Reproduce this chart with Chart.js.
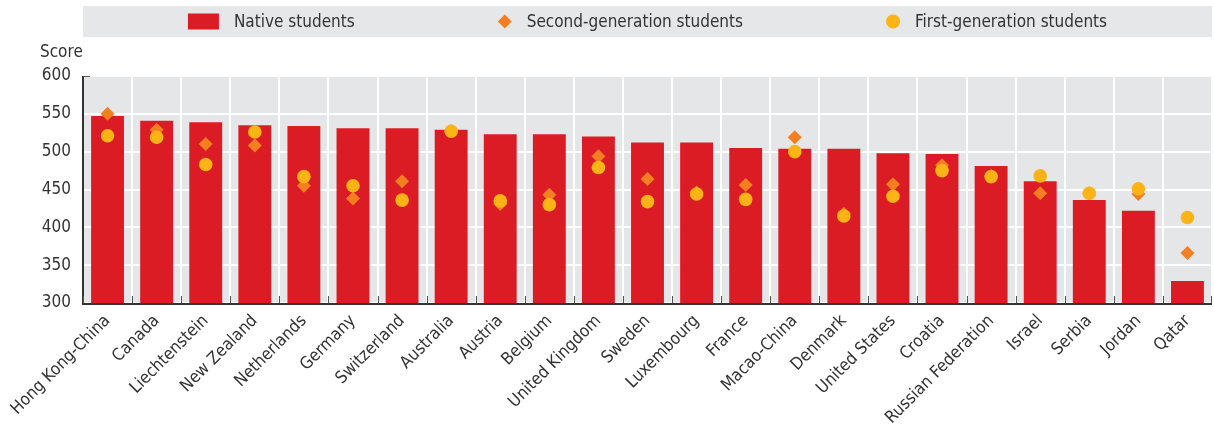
<!DOCTYPE html>
<html>
<head>
<meta charset="utf-8">
<script src="https://cdn.jsdelivr.net/npm/chart.js@4/dist/chart.umd.min.js"></script>
<style>
  html, body { margin: 0; padding: 0; background: #ffffff; }
  #wrap { position: relative; width: 1214px; height: 427px; }
</style>
</head>
<body>
<div id="wrap"><canvas id="c" width="1214" height="427"></canvas></div>
<script>
const FONT = '"Liberation Sans Narrow", "DejaVu Sans Condensed", "Roboto Condensed", "Arial Narrow", sans-serif';

const countries = [
  'Hong Kong-China', 'Canada', 'Liechtenstein', 'New Zealand', 'Netherlands',
  'Germany', 'Switzerland', 'Australia', 'Austria', 'Belgium', 'United Kingdom',
  'Sweden', 'Luxembourg', 'France', 'Macao-China', 'Denmark', 'United States',
  'Croatia', 'Russian Federation', 'Israel', 'Serbia', 'Jordan', 'Qatar'
];
const nativeScores = [547, 541, 539, 535, 534, 531, 531, 529, 523, 523, 520, 512, 512, 505, 504, 504, 498, 497, 481, 461, 436, 422, 329];
const secondGenScores = [550, 529, 510, 508, 455, 438, 461, 527, 431, 443, 494, 464, 446, 456, 519, 418, 457, 482, 468, 445, 445, 444, 366];
const firstGenScores = [521, 519, 483, 526, 467, 455, 436, 527, 435, 430, 479, 434, 444, 437, 500, 415, 441, 475, 467, 468, 445, 451, 413];
const yTicks = [300, 350, 400, 450, 500, 550, 600];
const axisTitle = 'Score';

const RED = '#dc1c24';
const ORANGE = '#f47f20';
const GOLD = '#fcb316';
const PLOT_BG = '#e5e6e8';
const TEXT = '#333333';

// Grey plot background, axis lines, inner ticks, "Score" label and a legend bar
const decor = {
  id: 'decor',
  beforeDraw(chart) {
    const { ctx, chartArea: a } = chart;
    ctx.save();
    ctx.fillStyle = PLOT_BG;
    ctx.fillRect(a.left, a.top, a.right - a.left, a.bottom - a.top);
    ctx.restore();
  },
  afterDatasetsDraw(chart) {
    const { ctx, chartArea: a, scales } = chart;
    const x = scales.x;
    ctx.save();
    ctx.strokeStyle = TEXT;
    ctx.lineWidth = 2;
    ctx.beginPath();
    ctx.moveTo(a.left, a.top);
    ctx.lineTo(a.left, a.bottom + 1);
    ctx.lineTo(a.right, a.bottom + 1);
    ctx.stroke();
    // short ticks pointing inward at category boundaries
    ctx.lineWidth = 1;
    ctx.strokeStyle = '#555555';
    ctx.beginPath();
    for (let i = 0; i <= countries.length; i++) {
      const px = Math.min(Math.round(x.getPixelForValue(i - 0.5)) + 0.5, a.right - 0.5);
      ctx.moveTo(px, a.bottom);
      ctx.lineTo(px, a.bottom - 7);
    }
    const yTop = Math.round(scales.y.getPixelForValue(600)) + 0.5;
    ctx.moveTo(a.left, yTop);
    ctx.lineTo(a.left + 7, yTop);
    ctx.stroke();

    // axis title above the value labels
    ctx.fillStyle = TEXT;
    ctx.font = '17px ' + FONT;
    ctx.textAlign = 'left';
    ctx.textBaseline = 'middle';
    ctx.fillText(axisTitle, 40, 53);

    // legend strip across the plot width
    ctx.fillStyle = '#e6e7e9';
    ctx.fillRect(a.left, 6, a.right - a.left, 31);
    ctx.font = '17px ' + FONT;
    const ds = chart.data.datasets;
    const gap = 15, between = 143;
    const markerW = [31, 14, 14];
    const widths = ds.map((d, i) => markerW[i] + gap + ctx.measureText(d.label).width);
    const total = widths.reduce((s, w) => s + w, 0) + between * (ds.length - 1);
    let cx = (a.left + a.right) / 2 - total / 2;
    const cy = 21.5;
    ds.forEach((d, i) => {
      ctx.fillStyle = d.backgroundColor;
      if (i === 0) {
        ctx.fillRect(cx, cy - 8, 31, 16);
      } else if (i === 1) {
        ctx.beginPath();
        ctx.moveTo(cx, cy); ctx.lineTo(cx + 7, cy - 7);
        ctx.lineTo(cx + 14, cy); ctx.lineTo(cx + 7, cy + 7);
        ctx.closePath(); ctx.fill();
      } else {
        ctx.beginPath();
        ctx.arc(cx + 7, cy, 7, 0, Math.PI * 2);
        ctx.fill();
      }
      ctx.fillStyle = TEXT;
      ctx.fillText(d.label, cx + markerW[i] + gap, cy + 1);
      cx += widths[i] + between;
    });
    ctx.restore();
  }
};

new Chart(document.getElementById('c'), {
  type: 'bar',
  data: {
    labels: countries,
    datasets: [
      {
        type: 'bar',
        label: 'Native students',
        data: nativeScores,
        backgroundColor: RED,
        barPercentage: 0.67,
        categoryPercentage: 1.0,
        order: 3
      },
      {
        type: 'line',
        label: 'Second-generation students',
        data: secondGenScores,
        showLine: false,
        pointStyle: 'rectRot',
        pointRadius: 7,
        pointBorderWidth: 0,
        backgroundColor: ORANGE,
        borderColor: ORANGE,
        clip: false,
        order: 2
      },
      {
        type: 'line',
        label: 'First-generation students',
        data: firstGenScores,
        showLine: false,
        pointStyle: 'circle',
        pointRadius: 6.8,
        pointBorderWidth: 0,
        backgroundColor: GOLD,
        borderColor: GOLD,
        clip: false,
        order: 1
      }
    ]
  },
  options: {
    responsive: false,
    animation: false,
    devicePixelRatio: 1,
    layout: { autoPadding: false, padding: { top: 76, right: 2, left: 0, bottom: 0 } },
    plugins: {
      legend: { display: false },
      tooltip: { enabled: false }
    },
    scales: {
      x: {
        offset: true,
        grid: { color: '#ffffff', lineWidth: 2, offset: true, drawTicks: false },
        border: { display: false },
        ticks: {
          color: TEXT,
          font: { family: FONT, size: 17 },
          minRotation: 45,
          maxRotation: 45,
          padding: 8,
          autoSkip: false
        },
        afterFit(scale) {
          scale.height = 427 - 303;
          scale.paddingLeft = 0;
          scale.paddingRight = 0;
        }
      },
      y: {
        min: 300,
        max: 600,
        afterBuildTicks(scale) { scale.ticks = yTicks.map(v => ({ value: v })); },
        grid: { color: '#ffffff', lineWidth: 2, drawTicks: false },
        border: { display: false },
        ticks: {
          color: TEXT,
          font: { family: FONT, size: 17 },
          padding: 12
        },
        afterFit(scale) {
          scale.width = 83;
          scale.paddingTop = 0;
          scale.paddingBottom = 0;
        }
      }
    }
  },
  plugins: [decor]
});
</script>
</body>
</html>
